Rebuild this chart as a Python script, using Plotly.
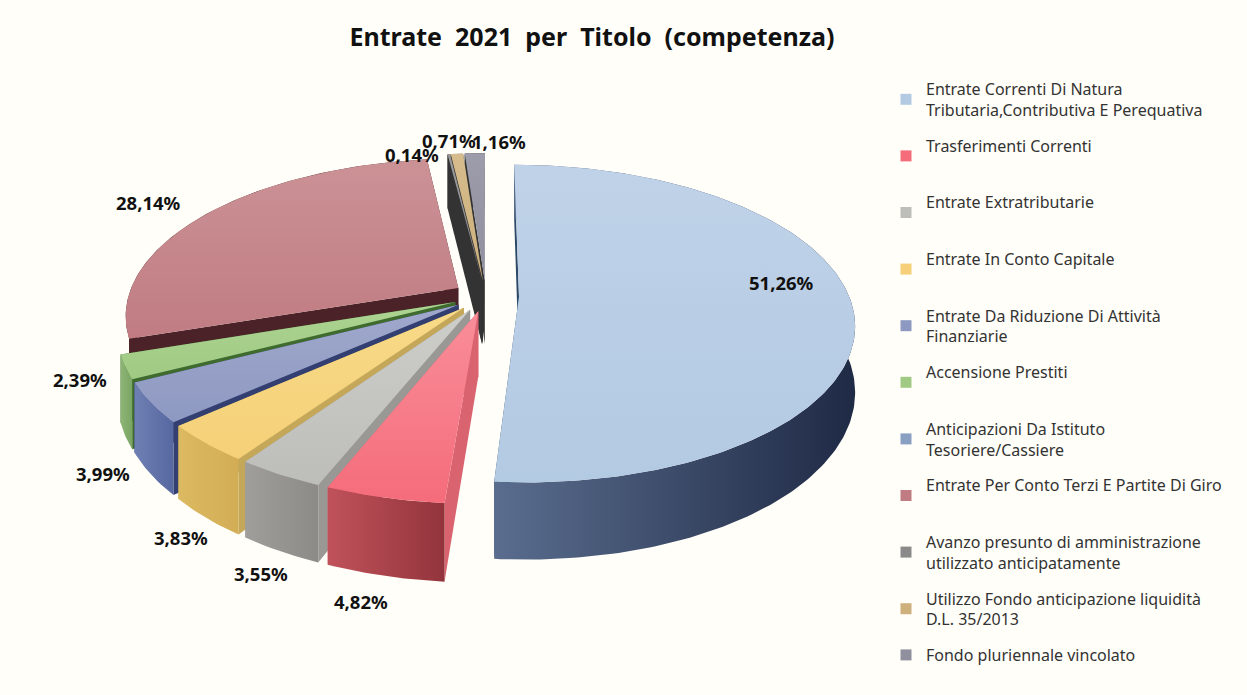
import math
import plotly.graph_objects as go

TITLE = "Entrate\u00a0 2021\u00a0 per\u00a0 Titolo\u00a0 (competenza)"
CATEGORIES = [
    "Entrate Correnti Di Natura<br>Tributaria,Contributiva E Perequativa",
    "Trasferimenti Correnti<br>\u00a0",
    "Entrate Extratributarie<br>\u00a0",
    "Entrate In Conto Capitale<br>\u00a0",
    "Entrate Da Riduzione Di Attività<br>Finanziarie",
    "Accensione Prestiti<br>\u00a0",
    "Anticipazioni Da Istituto<br>Tesoriere/Cassiere",
    "Entrate Per Conto Terzi E Partite Di Giro<br>\u00a0",
    "Avanzo presunto di amministrazione<br>utilizzato anticipatamente",
    "Utilizzo Fondo anticipazione liquidità<br>D.L. 35/2013",
    "Fondo pluriennale vincolato",
]
VALUES = [51.26, 4.82, 3.55, 3.83, 3.99, 2.39, 0.0, 28.14, 0.14, 0.71, 1.16]
TOP_LIGHT = ["#bfd2e8", "#f98e99", "#cdcdc9", "#f8da88", "#a0a9cc", "#add492", "#94a9c9", "#cb9296", "#9a9a9a", "#d6bc8c", "#9c9cab"]
TOP_DARK = ["#b3cae3", "#f56c7b", "#bdbdb9", "#f5d078", "#8e99c2", "#a0ca84", "#8aa0c2", "#c07c82", "#8a8a8a", "#cdb07c", "#8f8f9e"]
WALL_LEFT = ["#5a6d8e", "#c0525a", "#a09e9a", "#dcba62", "#6f80b4", "#8db576", "#6f84a8", "#4a2228", "#333333", "#333333", "#333333"]
WALL_RIGHT = ["#1f2a45", "#93343c", "#8d8b88", "#d2ad55", "#5767a0", "#7aa564", "#5d7296", "#4a2228", "#333333", "#333333", "#333333"]
RADIAL = ["#2c4a68", "#d9646f", "#9a9895", "#c4a758", "#333f70", "#3f6b2e", "#445a80", "#4a2228", "#333333", "#333333", "#333333"]
LABEL_X = [781, 361, 261, 181, 103, 80, None, 148, 412, 449, 499]
LABEL_Y = [282, 601, 573, 537, 473, 379, None, 202, 154, 140, 141]

CX, CY, A, B, K, PULL, DROP = 486, 296, 330, 154, 0.17, 0.1, 64


def project(t, r, tm):
    X = r * math.sin(t) + PULL * math.sin(tm)
    Z = -r * math.cos(t) - PULL * math.cos(tm)
    s = 1 / (1 - K * Z)
    return CX + A * X * s, CY + B * Z * s, DROP * s


def gradient(c0, c1):
    return dict(type="horizontal", colorscale=[[0, c0], [1, c1]])


def poly(xs, ys, fill=None, grad=None):
    kw = dict(fillgradient=grad) if grad else dict(fillcolor=fill)
    return go.Scatter(x=xs + xs[:1], y=ys + ys[:1], mode="lines", fill="toself",
                      line=dict(width=0), showlegend=False, hoverinfo="skip", **kw)


total = sum(VALUES)
slices, acc = [], 0.0
for i, v in enumerate(VALUES):
    t0 = 2 * math.pi * acc / total
    acc += v
    t1 = 2 * math.pi * acc / total
    if v > 0:
        slices.append((i, t0, t1, (t0 + t1) / 2))
slices.sort(key=lambda s: -math.cos(s[3]))

fig = go.Figure()
for i, t0, t1, tm in slices:
    n = max(4, int((t1 - t0) * 60))
    arc = [project(t0 + (t1 - t0) * j / n, 1, tm) for j in range(n + 1)]
    ax, ay, ah = project(0, 0, tm)
    # radial walls
    for end in (arc[0], arc[-1]):
        fig.add_trace(poly([ax, end[0], end[0], ax], [ay, end[1], end[1] + end[2], ay + ah], fill=RADIAL[i]))
    # outer wall
    xs = [p[0] for p in arc]
    fig.add_trace(poly(xs + xs[::-1], [p[1] for p in arc] + [p[1] + p[2] for p in arc[::-1]],
                       grad=gradient(WALL_LEFT[i], WALL_RIGHT[i])))
    # top face
    fig.add_trace(poly([ax] + xs, [ay] + [p[1] for p in arc],
                       grad=dict(type="vertical", colorscale=[[0, TOP_DARK[i]], [1, TOP_LIGHT[i]]])))

for i, name in enumerate(CATEGORIES):
    fig.add_trace(go.Scatter(x=[None], y=[None], mode="markers", name=name, legendgroup=str(i),
                             marker=dict(symbol="square", size=11, color=TOP_DARK[i])))

for v, x, y in zip(VALUES, LABEL_X, LABEL_Y):
    if x is not None:
        fig.add_annotation(x=x, y=y, text=f"<b>{v:.2f}%</b>".replace(".", ","), showarrow=False,
                           font=dict(family="Noto Sans", size=18.5, color="#111111"))

BG = "#fffef8"
fig.update_layout(
    width=1247, height=695, paper_bgcolor=BG, plot_bgcolor=BG,
    margin=dict(l=0, r=0, t=0, b=0, autoexpand=False),
    font=dict(family="Noto Sans", color="#222222"),
    title=dict(text=f"<b>{TITLE}</b>", x=592 / 1247, xanchor="center", y=1 - 37 / 695, yanchor="middle",
               font=dict(family="Noto Sans", size=25, color="#111111")),
    xaxis=dict(range=[0, 1247], visible=False, fixedrange=True),
    yaxis=dict(range=[695, 0], visible=False, fixedrange=True),
    legend=dict(x=886 / 1247, y=1 - 72 / 695, xanchor="left", yanchor="top", tracegroupgap=12,
                font=dict(family="Noto Sans", size=16, color="#333333"), bgcolor="rgba(0,0,0,0)"),
)
fig.write_html("out.html", config=dict(displayModeBar=False),
               post_script="document.body.style.margin='0';document.body.style.background='#fffef8';")
